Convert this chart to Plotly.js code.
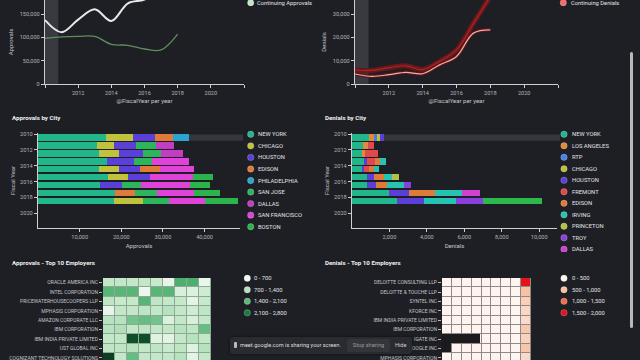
<!DOCTYPE html>
<html><head><meta charset="utf-8">
<script src="https://cdn.plot.ly/plotly-3.0.1.min.js"></script>
<style>
html,body{margin:0;padding:0;background:#1e1f25;width:640px;height:360px;overflow:hidden;font-family:Roboto,"Open Sans",sans-serif}
.panel{position:absolute;overflow:hidden}
.panel > div{position:absolute;left:0;top:0}
#share{position:absolute;left:230px;top:337px;width:182px;height:17px;background:#2a2b30;border-radius:3px;box-shadow:0 0 3px rgba(0,0,0,.6);font-size:5.6px;color:#dcdcdc;}
#share .ic{position:absolute;left:4px;top:5px;width:3px;height:6px;background:#bbb;border-radius:1px}
#share .t{position:absolute;left:10px;top:4.5px;white-space:nowrap}
#share .b{position:absolute;left:117px;top:2px;width:43px;height:13px;background:#34353a;border-radius:2px;color:#9a9a9e;text-align:center;line-height:13px}
#share .h{position:absolute;left:165px;top:4.5px;color:#cfcfcf}
.blk{position:absolute;background:#1b1b1d}
#scroll{position:absolute;left:630px;top:52px;width:3px;height:276px;background:#b9b9bc;border-radius:2px}
</style></head><body>
<div class="panel" style="left:0;top:0;width:320px;height:110px"><div id="c1" style="width:320px;height:110px"></div></div>
<div class="panel" style="left:320px;top:0;width:320px;height:110px"><div id="c2" style="width:320px;height:110px"></div></div>
<div class="panel" style="left:0;top:110px;width:320px;height:142px"><div id="c3" style="width:320px;height:160px"></div></div>
<div class="panel" style="left:320px;top:110px;width:320px;height:142px"><div id="c4" style="width:320px;height:160px"></div></div>
<div class="panel" style="left:0;top:252px;width:320px;height:108px"><div id="c5" style="width:320px;height:130px"></div></div>
<div class="panel" style="left:320px;top:252px;width:320px;height:108px"><div id="c6" style="width:320px;height:130px"></div></div>
<div class="blk" style="left:442px;top:334px;width:38px;height:9px"></div>
<div class="blk" style="left:442px;top:334px;width:9px;height:18px"></div>
<div id="share"><div class="ic"></div><div class="t">meet.google.com is sharing your screen.</div><div class="b">Stop sharing</div><div class="h">Hide</div></div>
<div id="scroll"></div>
<script>
// ---------- DATA ----------
const years = [2010, 2011, 2012, 2013, 2014, 2015, 2016, 2017, 2018];

// line charts
const approvalsTotal       = [137000, 111000, 138000, 160000, 135000, 173000, 181000, 202000, 218000];
const continuingApprovals  = [98000, 101000, 102000, 102000, 85000, 83000, 75000, 73000, 107000];
const denialsTotal         = [6000, 5800, 7000, 7800, 6200, 9700, 14600, 26000, 37500];
const continuingDenials    = [4300, 3300, 4000, 5000, 4400, 8200, 11800, 21800, 23200];

// approvals by city
const apCities = ['NEW YORK', 'CHICAGO', 'HOUSTON', 'EDISON', 'PHILADELPHIA', 'SAN JOSE', 'DALLAS', 'SAN FRANCISCO', 'BOSTON'];
const apColors = ['#22b68b', '#c0c23c', '#5a3fd8', '#df7a3a', '#2ba5cf', '#2db55b', '#c23cc4', '#e142d9', '#2bb44b'];
const apNewYork      = [16400, 14200, 14600, 16600, 14700, 16800, 15000, 18600, 18200];
const apChicago      = [6400, 4000, 4800, 0, 4800, 4700, 0, 0, 7000];
const apHouston      = [5400, 5400, 5800, 6400, 5000, 5400, 5200, 0, 0];
const apEdison       = [4200, 0, 0, 0, 4800, 0, 0, 4600, 0];
const apPhiladelphia = [3800, 0, 0, 0, 0, 0, 0, 0, 0];
const apSanJose      = [0, 4800, 4300, 4400, 0, 0, 4600, 5400, 6200];
const apDallas       = [0, 4200, 5300, 0, 0, 0, 0, 0, 0];
const apSanFrancisco = [0, 0, 0, 8800, 8200, 10400, 11600, 8800, 8600];
const apBoston       = [0, 0, 0, 0, 0, 4600, 4800, 6400, 8000];

// denials by city
const dnCities = ['NEW YORK', 'LOS ANGELES', 'RTP', 'CHICAGO', 'HOUSTON', 'FREMONT', 'EDISON', 'IRVING', 'PRINCETON', 'TROY', 'DALLAS', 'SAN JOSE'];
const dnColors = ['#22b68b', '#e3893b', '#4a80e6', '#b8c23c', '#5a3fd8', '#e0494b', '#df7a3a', '#26c3b1', '#b2c242', '#8b3fe0', '#d041d2', '#2cb84b'];
const dnNewYork   = [890, 590, 530, 620, 530, 800, 800, 1950, 2400];
const dnLosAngeles= [270, 250, 180, 0, 0, 0, 0, 0, 0];
const dnRtp       = [180, 0, 0, 0, 0, 0, 0, 0, 0];
const dnChicago   = [140, 0, 0, 0, 0, 0, 0, 0, 0];
const dnHouston   = [210, 0, 0, 180, 130, 355, 500, 1070, 1460];
const dnFremont   = [0, 330, 700, 450, 270, 0, 0, 0, 0];
const dnEdison    = [0, 0, 0, 270, 230, 530, 570, 1420, 0];
const dnIrving    = [0, 0, 0, 270, 270, 445, 890, 1420, 1700];
const dnPrinceton = [0, 0, 0, 0, 0, 355, 0, 0, 0];
const dnTroy      = [0, 0, 0, 0, 0, 0, 390, 0, 1460];
const dnDallas    = [0, 0, 0, 0, 0, 0, 0, 980, 0];
const dnSanJose   = [0, 0, 0, 0, 0, 0, 0, 0, 3110];

// heatmaps
const apEmployers = ['ORACLE AMERICA INC', 'INTEL CORPORATION', 'PRICEWATERHOUSECOOPERS LLP', 'MPHASIS CORPORATION', 'AMAZON CORPORATE LLC', 'IBM CORPORATION', 'IBM INDIA PRIVATE LIMITED', 'UST GLOBAL INC', 'COGNIZANT TECHNOLOGY SOLUTIONS', 'TATA CONSULTANCY SERVICES LIMITED'];
const apHeat = [
  [900, 900, 900, 900, 800, 250, 1800, 1800, 200],
  [1700, 1700, 1700, 150, 1700, 1700, 500, 450, 700],
  [950, 800, 850, 1700, 950, 900, 850, 300, 800],
  [250, 900, 900, 950, 900, 1000, 900, 700, 950],
  [1000, 1000, 1500, 1600, 1500, 450, 900, 500, 900],
  [1000, 1050, 900, 950, 900, 900, 1000, 950, 1600],
  [900, 900, 2700, 2700, 350, 300, 900, 1000, 900],
  [950, 950, 1000, 900, 950, 800, 950, 400, 1000],
  [2800, 900, 1600, 900, 900, 900, 1000, 300, 900],
  [900, 900, 900, 900, 900, 900, 900, 900, 900]
];
const apBins = ['0 - 700', '700 - 1,400', '1,400 - 2,100', '2,100 - 2,800'];
const apBinColors = ['#f3f7f3', '#b6e1be', '#5db979', '#1e7b47'];

const dnEmployers = ['DELOITTE CONSULTING LLP', 'DELOITTE & TOUCHE LLP', 'SYNTEL INC', 'KFORCE INC', 'IBM INDIA PRIVATE LIMITED', 'IBM CORPORATION', 'IGATE INC', 'GOOGLE INC', 'MPHASIS CORPORATION', 'ACCENTURE LLP'];
const dnHeat = [
  [60, 60, 60, 60, 60, 60, 60, 40, 1900],
  [60, 60, 60, 60, 60, 60, 60, 40, 560],
  [60, 60, 60, 60, 60, 60, 60, 40, 420],
  [60, 60, 60, 60, 60, 60, 60, 40, 330],
  [60, 60, 60, 60, 60, 60, 60, 40, 280],
  [60, 60, 60, 60, 60, 60, 60, 40, 500],
  [60, 60, 60, 60, 60, 60, 60, 40, 380],
  [60, 60, 60, 60, 60, 60, 60, 40, 520],
  [60, 60, 60, 60, 60, 60, 60, 40, 300],
  [60, 60, 60, 60, 60, 60, 60, 40, 300]
];
const dnBins = ['0 - 500', '500 - 1,000', '1,000 - 1,500', '1,500 - 2,000'];
const dnBinColors = ['#fbf3ef', '#f6c29e', '#ec6f50', '#e0141e'];

// ---------- STYLE ----------
const FONT = 'Roboto, "Open Sans", sans-serif';
const BG = '#1e1f25';
const TICK = {family: FONT, size: 5.6, color: '#b2b2b6'};
const ATITLE = {family: FONT, size: 6, color: '#c6c6ca'};
const LEGF = {family: FONT, size: 5.8, color: '#e2e2e4'};
const cfg = {displayModeBar: false, staticPlot: true};

function axis(extra) {
  return Object.assign({showline: true, linecolor: '#cfcfd2', linewidth: 1.2, ticks: 'outside', ticklen: 3,
    tickcolor: '#cfcfd2', tickwidth: 1, showgrid: false, zeroline: false, tickfont: TICK, fixedrange: true}, extra);
}
// legend drawn with pixel offsets from the plot's top-right corner
function pxLegend(names, colors, o) {
  const shapes = [], annotations = [];
  names.forEach((n, i) => {
    const dy = -(o.y0 + i * o.dy - o.top);
    shapes.push({type: 'circle', xref: 'paper', yref: 'paper', xsizemode: 'pixel', ysizemode: 'pixel',
      xanchor: 1, yanchor: 1, x0: o.mx - o.right - 3.2, x1: o.mx - o.right + 3.2, y0: dy - 3.2, y1: dy + 3.2,
      fillcolor: colors[i], line: {width: 0.6, color: 'rgba(255,255,255,0.35)'}});
    annotations.push({xref: 'paper', yref: 'paper', x: 1, y: 1, xanchor: 'left', yanchor: 'middle',
      xshift: o.tx - o.right, yshift: dy, text: n, showarrow: false, font: o.font || LEGF});
  });
  return {shapes, annotations};
}
function base(W, H, m, title, tx, ty) {
  const L = {width: W, height: H, margin: m, paper_bgcolor: BG, plot_bgcolor: BG, showlegend: false,
    font: {family: FONT, color: '#ccc'}};
  if (title) L.title = {text: '<b>' + title + '</b>', font: {family: FONT, size: 6.2, color: '#f0f0f0'},
    x: tx / W, y: 1 - ty / H, xanchor: 'left', yanchor: 'middle', xref: 'container', yref: 'container'};
  return L;
}

// ---------- 1: Approvals lines ----------
(function () {
  const m = {l: 45, r: 76, t: 0, b: 26};
  const L = base(320, 110, m);
  L.xaxis = axis({range: [2010, 2022], tickvals: [2010, 2012, 2014, 2016, 2018, 2020, 2022],
    ticktext: ['', '2012', '2014', '2016', '2018', '2020', ''], title: {text: '@FiscalYear per year', font: ATITLE, standoff: 3}});
  L.yaxis = axis({range: [0, 180000], tickvals: [0, 50000, 100000, 150000], ticktext: ['0', '50,000', '100,000', '150,000'],
    title: {text: 'Approvals', font: ATITLE, standoff: 5}});
  const lg = pxLegend(['Continuing Approvals'], ['#c2e6c8'], {mx: 250.7, tx: 255, y0: 2.7, dy: 12, right: 244, top: 0});
  L.shapes = [{type: 'rect', xref: 'x', yref: 'paper', x0: 2010, x1: 2010.8, y0: 0, y1: 1, fillcolor: '#393a41', line: {width: 0}, layer: 'below'}].concat(lg.shapes);
  L.annotations = lg.annotations;
  Plotly.newPlot('c1', [
    {x: years, y: continuingApprovals, mode: 'lines', line: {color: '#5e8f5b', width: 1.3, shape: 'spline'}},
    {x: years, y: approvalsTotal, mode: 'lines', line: {color: '#e8e8ea', width: 2, shape: 'spline'}}
  ], L, cfg);
})();

// ---------- 2: Denials lines ----------
(function () {
  const m = {l: 35, r: 82, t: 0, b: 26};
  const L = base(320, 110, m);
  L.xaxis = axis({range: [2010, 2022], tickvals: [2010, 2012, 2014, 2016, 2018, 2020, 2022],
    ticktext: ['', '2012', '2014', '2016', '2018', '2020', ''], title: {text: '@FiscalYear per year', font: ATITLE, standoff: 3}});
  L.yaxis = axis({range: [0, 36000], tickvals: [0, 10000, 20000, 30000], ticktext: ['0', '10,000', '20,000', '30,000'],
    title: {text: 'Denials', font: ATITLE, standoff: 5}});
  const lg = pxLegend(['Continuing Denials'], ['#f06b6d'], {mx: 243.3, tx: 249, y0: 2.7, dy: 12, right: 238, top: 0});
  L.shapes = [{type: 'rect', xref: 'x', yref: 'paper', x0: 2010, x1: 2010.8, y0: 0, y1: 1, fillcolor: '#393a41', line: {width: 0}, layer: 'below'}].concat(lg.shapes);
  L.annotations = lg.annotations;
  Plotly.newPlot('c2', [
    {x: years, y: denialsTotal, mode: 'lines', line: {color: '#6b1719', width: 5, shape: 'spline'}},
    {x: years, y: denialsTotal, mode: 'lines', line: {color: '#a52629', width: 1.2, shape: 'spline'}},
    {x: years, y: continuingDenials, mode: 'lines', line: {color: '#5a1718', width: 3.5, shape: 'spline'}},
    {x: years, y: continuingDenials, mode: 'lines', line: {color: '#f2aaa4', width: 1.2, shape: 'spline'}}
  ], L, cfg);
})();

// ---------- 3/4: stacked bars by city ----------
function cityBars(id, cities, colors, series, xr, xt, xtt, xtitle, title, m, leg) {
  const W = 320, H = 160;
  const L = base(W, H, m, title, 12 - (id === 'c4' ? 7 : 0), 8);
  L.barmode = 'stack';
  L.bargap = 0;
  L.xaxis = axis({range: xr, tickvals: xt, ticktext: xtt, title: {text: xtitle, font: ATITLE, standoff: 4}});
  L.yaxis = axis({range: [2021.86, 2009.87], tickvals: [2010, 2012, 2014, 2016, 2018, 2020],
    ticktext: ['2010', '2012', '2014', '2016', '2018', '2020'], title: {text: 'Fiscal Year', font: ATITLE, standoff: 4}});
  const lg = pxLegend(cities, colors, leg);
  L.shapes = [{type: 'rect', xref: 'paper', yref: 'y', x0: 0, x1: 1.015, y0: years[0] + 0.05, y1: years[0] + 0.85,
    fillcolor: '#36373d', line: {width: 0}, layer: 'below'}].concat(lg.shapes);
  L.annotations = lg.annotations;
  const yPos = years.map(y => y + 0.45);
  const traces = series.map((s, i) => ({type: 'bar', orientation: 'h', x: s, y: yPos, width: 0.8,
    marker: {color: colors[i], line: {width: 0}}, name: cities[i]}));
  Plotly.newPlot(id, traces, L, cfg);
}
cityBars('c3', apCities, apColors,
  [apNewYork, apChicago, apHouston, apEdison, apPhiladelphia, apSanJose, apDallas, apSanFrancisco, apBoston],
  [0, 48500], [10000, 20000, 30000, 40000], ['10,000', '20,000', '30,000', '40,000'], 'Approvals', 'Approvals by City',
  {l: 38, r: 80, t: 23, b: 42}, {mx: 250.7, tx: 256, y0: 24.3, dy: 11.55, right: 240, top: 23});
cityBars('c4', dnCities.slice(0, 11).concat([dnCities[11]]), dnColors,
  [dnNewYork, dnLosAngeles, dnRtp, dnChicago, dnHouston, dnFremont, dnEdison, dnIrving, dnPrinceton, dnTroy, dnDallas, dnSanJose],
  [0, 10950], [2000, 4000, 6000, 8000, 10000], ['2,000', '4,000', '6,000', '8,000', '10,000'], 'Denials', 'Denials by City',
  {l: 32, r: 83, t: 23, b: 42}, {mx: 244, tx: 250, y0: 24.3, dy: 11.5, right: 237, top: 23});

// ---------- 5/6: heatmaps ----------
function heat(id, employers, z, zmax, scale, gridColor, bins, binColors, title, m, leg, tx) {
  const W = 320, H = 130;
  const L = base(W, H, m, title, tx, 11);
  L.plot_bgcolor = gridColor;
  L.xaxis = {showticklabels: false, ticks: '', showline: false, showgrid: false, zeroline: false, fixedrange: true};
  L.yaxis = {type: 'category', autorange: 'reversed', ticks: 'outside', ticklen: 3, tickcolor: '#b8b8bc', showline: false,
    showgrid: false, zeroline: false, tickfont: {family: FONT, size: 5, color: '#c4c4c8'}, fixedrange: true};
  const lg = pxLegend(bins, binColors, leg);
  L.shapes = lg.shapes;
  L.annotations = lg.annotations;
  Plotly.newPlot(id, [{type: 'heatmap', x: years, y: employers, z: z, zmin: 0, zmax: zmax, colorscale: scale,
    showscale: false, xgap: 1, ygap: 1}], L, cfg);
}
heat('c5', apEmployers, apHeat, 2800,
  [[0, '#f4faf4'], [0.2, '#d4efd7'], [0.33, '#c2e7c7'], [0.55, '#6cc188'], [0.62, '#52b472'], [0.85, '#15843f'], [1, '#0d3d22']],
  '#8fa796', apBins, apBinColors, 'Approvals - Top 10 Employers',
  {l: 103, r: 109, t: 26, b: 10}, {mx: 247.3, tx: 252, y0: 26.3, dy: 11.5, right: 211, top: 26}, 12);
heat('c6', dnEmployers, dnHeat, 2000,
  [[0, '#fff8f5'], [0.05, '#fdf0ea'], [0.15, '#fad9c8'], [0.3, '#f7bf9f'], [0.6, '#ee7258'], [1, '#e0060f']],
  '#8f8a8a', dnBins, dnBinColors, 'Denials - Top 10 Employers',
  {l: 122, r: 109, t: 26, b: 10}, {mx: 244, tx: 250, y0: 26.3, dy: 11.5, right: 211, top: 26}, 5);
</script>
</body></html>
